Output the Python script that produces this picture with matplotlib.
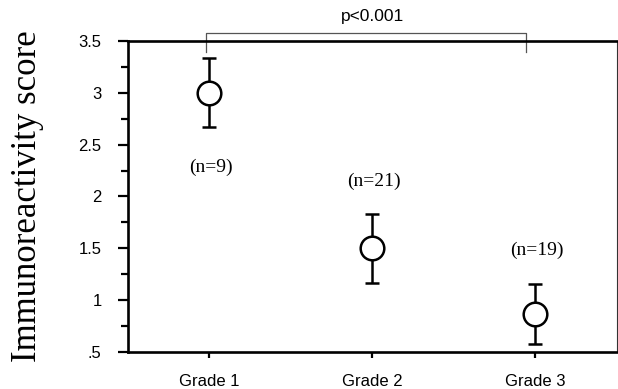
import matplotlib
matplotlib.use("Agg")
import matplotlib.pyplot as plt
from matplotlib.ticker import MultipleLocator, FixedLocator

categories = ["Grade 1", "Grade 2", "Grade 3"]
means = [3.0, 1.5, 0.87]
errors = [0.33, 0.33, 0.29]
n_labels = ["(n=9)", "(n=21)", "(n=19)"]
n_label_y = [2.28, 2.15, 1.48]
ytick_vals = [0.5, 1, 1.5, 2, 2.5, 3, 3.5]
ytick_labels = [".5", "1", "1.5", "2", "2.5", "3", "3.5"]
p_text = "p<0.001"

fig = plt.figure(figsize=(6.18, 3.89), dpi=100)
ax = fig.add_axes([0.207, 0.095, 0.791, 0.8])

x = [1, 2, 3]
ax.errorbar(x, means, yerr=errors, fmt="o", color="black", ecolor="black",
            elinewidth=1.8, capsize=5, capthick=1.8, markersize=17,
            markerfacecolor="white", markeredgecolor="black", markeredgewidth=1.8,
            zorder=3)

for xi, lab, yy in zip(x, n_labels, n_label_y):
    ax.text(xi + 0.01, yy, lab, ha="center", va="center", fontsize=14,
            family="Liberation Serif")

ax.set_xlim(0.5, 3.5)
ax.set_ylim(0.5, 3.5)
ax.set_xticks(x)
ax.set_xticklabels(categories, fontsize=12, family="Liberation Sans")
ax.yaxis.set_major_locator(FixedLocator(ytick_vals))
ax.set_yticklabels(ytick_labels, fontsize=12, family="Liberation Sans")
ax.yaxis.set_minor_locator(MultipleLocator(0.25))
ax.tick_params(axis="y", which="major", direction="out", length=7, width=1.6, pad=12)
ax.tick_params(axis="y", which="minor", direction="out", length=5, width=1.6)
ax.tick_params(axis="x", which="major", direction="out", length=4, width=1.6, pad=12)

for s in ["left", "bottom", "top"]:
    ax.spines[s].set_linewidth(1.9)
    ax.spines[s].set_color("black")
ax.spines["right"].set_linewidth(0.8)
ax.spines["right"].set_color("#333333")

ax.set_ylabel("Immunoreactivity score", fontsize=25, family="Liberation Serif", labelpad=25)

# significance bracket
bx = [0.98, 0.98, 2.94, 2.94]
by = [3.39, 3.575, 3.575, 3.39]
ax.plot(bx, by, color="#555555", linewidth=0.9, clip_on=False)
ax.text(2.0, 3.73, p_text, ha="center", va="center", fontsize=12.5,
        family="Liberation Sans")

fig.savefig("out.png", dpi=100)
